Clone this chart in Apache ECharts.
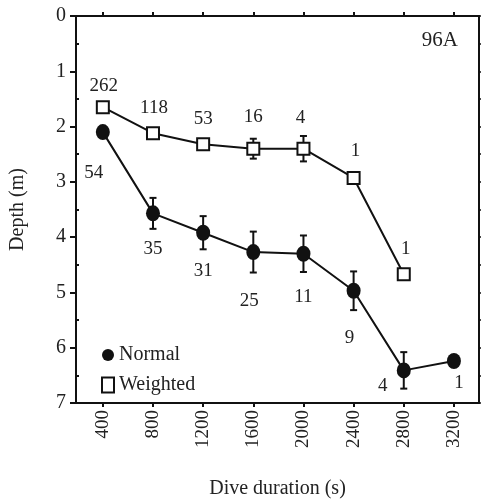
<!DOCTYPE html>
<html>
<head>
<meta charset="utf-8">
<script src="https://cdn.jsdelivr.net/npm/echarts@6/dist/echarts.min.js"></script>
<style>
  html, body { margin: 0; padding: 0; background: #fff; }
  #chart { width: 481px; height: 504px; }
</style>
</head>
<body>
<div id="chart"></div>
<script>
// dive duration categories (s)
const durations = [400, 800, 1200, 1600, 2000, 2400, 2800, 3200]
const xTicks = [400, 800, 1200, 1600, 2000, 2400, 2800, 3200]

// normal dives
const normalDepth = [2.1, 3.57, 3.92, 4.27, 4.30, 4.97, 6.41, 6.24]
const normalErr = [0, 0.28, 0.3, 0.37, 0.33, 0.35, 0.33, 0]
const normalN = ['54', '35', '31', '25', '11', '9', '4', '1']

// weighted dives
const weightedDur = [400, 800, 1200, 1600, 2000, 2400, 2800]
const weightedDepth = [1.65, 2.12, 2.32, 2.40, 2.40, 2.93, 4.67]
const weightedErr = [0, 0, 0, 0.18, 0.23, 0, 0]
const weightedN = ['262', '118', '53', '16', '4', '1', '1']

// label offsets (px) for the sample sizes
const normalOff = [[-9, 41], [0, 36], [0, 38], [-4, 49], [0, 43], [-4, 47], [-21, 16], [5, 22]]
const weightedOff = [[1, -21], [1, -25], [0, -25], [0, -32], [-3, -31], [2, -27], [2, -25]]

const FONT = 'Liberation Serif'

const chart = echarts.init(document.getElementById('chart'))

const errData = (xs, ys, es) => xs.map((x, i) => [x, ys[i], es[i]]).filter(d => d[2] > 0)

const errSeries = (data) => ({
  type: 'custom',
  z: 1,
  silent: true,
  data: data,
  renderItem: (params, api) => {
    const x = api.value(0), y = api.value(1), e = api.value(2)
    const top = api.coord([x, y - e])
    const bot = api.coord([x, y + e])
    const w = 3.5
    const style = { stroke: '#111', lineWidth: 2 }
    return {
      type: 'group',
      children: [
        { type: 'line', shape: { x1: top[0], y1: top[1], x2: bot[0], y2: bot[1] }, style },
        { type: 'line', shape: { x1: top[0] - w, y1: top[1], x2: top[0] + w, y2: top[1] }, style },
        { type: 'line', shape: { x1: bot[0] - w, y1: bot[1], x2: bot[0] + w, y2: bot[1] }, style }
      ]
    }
  }
})

const pointData = (xs, ys, ns, offs) => xs.map((x, i) => ({
  value: [x, ys[i]],
  label: { show: true, formatter: ns[i], position: 'inside', offset: offs[i] }
}))

const option = {
  animation: false,
  title: {
    text: '96A',
    right: 18,
    top: 25,
    textStyle: { fontFamily: FONT, fontSize: 21, fontWeight: 'normal', color: '#222' }
  },
  legend: {
    orient: 'vertical',
    left: 96,
    top: 340,
    itemGap: 10,
    itemWidth: 12,
    itemHeight: 15,
    textStyle: { fontFamily: FONT, fontSize: 20, color: '#222', padding: [0, 0, 0, 0] },
    data: [
      { name: 'Normal', icon: 'circle' },
      { name: 'Weighted', icon: 'rect', itemStyle: { color: '#fff', borderColor: '#111', borderWidth: 2 } }
    ]
  },
  grid: { left: 73, right: 2, top: 16, bottom: 92 },
  xAxis: [
    {
      type: 'value',
      min: 186,
      max: 3400,
      name: 'Dive duration (s)',
      nameLocation: 'middle',
      nameGap: 76,
      nameTextStyle: { fontFamily: FONT, fontSize: 20, color: '#222' },
      axisLine: { onZero: false, lineStyle: { color: '#111', width: 2 } },
      axisTick: { customValues: xTicks, length: 4, lineStyle: { color: '#111', width: 2 } },
      axisLabel: {
        customValues: xTicks,
        formatter: v => String(v),
        rotate: 90,
        margin: 7,
        fontFamily: FONT,
        fontSize: 19,
        color: '#222'
      },
      splitLine: { show: false }
    },
    {
      type: 'value',
      position: 'top',
      min: 186,
      max: 3400,
      axisLine: { onZero: false, lineStyle: { color: '#111', width: 2 } },
      axisTick: { customValues: xTicks, length: 4, lineStyle: { color: '#111', width: 2 } },
      axisLabel: { show: false },
      splitLine: { show: false }
    }
  ],
  yAxis: [
    {
      type: 'value',
      inverse: true,
      min: 0,
      max: 7,
      interval: 1,
      name: 'Depth (m)',
      nameLocation: 'middle',
      nameGap: 48,
      nameTextStyle: { fontFamily: FONT, fontSize: 20, color: '#222' },
      axisLine: { onZero: false, lineStyle: { color: '#111', width: 2 } },
      axisTick: { length: 6, lineStyle: { color: '#111', width: 2 } },
      minorTick: { show: true, splitNumber: 2, length: -3, lineStyle: { color: '#111', width: 2 } },
      axisLabel: { margin: 10, fontFamily: FONT, fontSize: 20, color: '#222' },
      splitLine: { show: false }
    },
    {
      type: 'value',
      position: 'right',
      inverse: true,
      min: 0,
      max: 7,
      interval: 0.5,
      axisLine: { onZero: false, lineStyle: { color: '#111', width: 2 } },
      axisTick: { length: 3, lineStyle: { color: '#111', width: 1.5 } },
      axisLabel: { show: false },
      splitLine: { show: false }
    }
  ],
  series: [
    errSeries(errData(durations, normalDepth, normalErr)),
    errSeries(errData(weightedDur, weightedDepth, weightedErr)),
    {
      name: 'Normal',
      type: 'line',
      z: 3,
      data: pointData(durations, normalDepth, normalN, normalOff),
      symbol: 'circle',
      symbolSize: [14, 16],
      lineStyle: { color: '#111', width: 2 },
      itemStyle: { color: '#111' },
      label: { fontFamily: FONT, fontSize: 19, color: '#222' }
    },
    {
      name: 'Weighted',
      type: 'line',
      z: 3,
      data: pointData(weightedDur, weightedDepth, weightedN, weightedOff),
      symbol: 'rect',
      symbolSize: 12,
      lineStyle: { color: '#111', width: 2 },
      itemStyle: { color: '#fff', borderColor: '#111', borderWidth: 2 },
      label: { fontFamily: FONT, fontSize: 19, color: '#222' }
    }
  ]
}

chart.setOption(option)
</script>
</body>
</html>
